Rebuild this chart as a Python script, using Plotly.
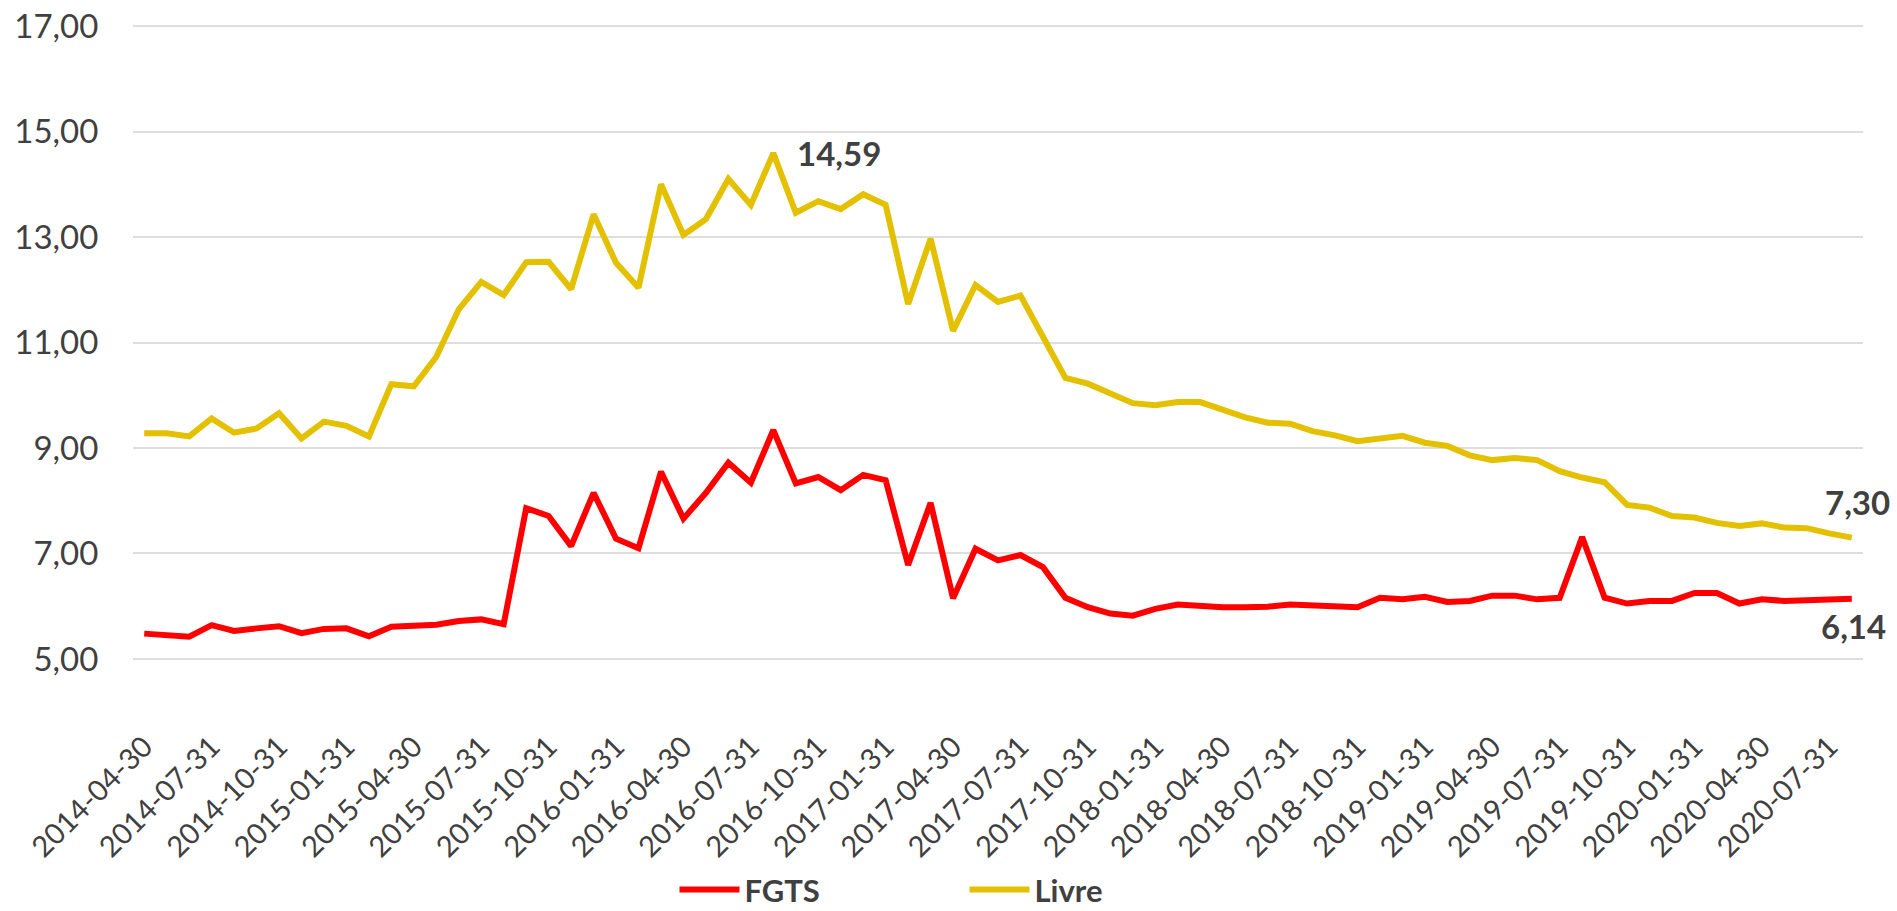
import pandas as pd
import plotly.graph_objects as go

# Month-end categories 2014-04-30 .. 2020-08-31
dates = [d.strftime("%Y-%m-%d") for d in pd.date_range("2014-04-30", periods=77, freq="ME")]

fgts = [5.48, 5.46, 5.42, 5.64, 5.53, 5.58, 5.62, 5.49, 5.57, 5.58,
        5.43, 5.61, 5.64, 5.65, 5.72, 5.75, 5.66, 7.86, 7.71, 7.14,
        8.15, 7.28, 7.10, 8.55, 7.66, 8.15, 8.72, 8.34, 9.34, 8.33,
        8.45, 8.20, 8.49, 8.39, 6.78, 7.96, 6.15, 7.09, 6.87, 6.97,
        6.74, 6.16, 5.98, 5.86, 5.82, 5.95, 6.03, 6.00, 5.98, 5.98,
        5.99, 6.03, 6.01, 5.99, 5.98, 6.16, 6.13, 6.18, 6.08, 6.10,
        6.20, 6.20, 6.13, 6.16, 7.31, 6.16, 6.05, 6.10, 6.10, 6.25,
        6.25, 6.05, 6.13, 6.10, 6.11, 6.12, 6.14]

livre = [9.28, 9.28, 9.22, 9.56, 9.29, 9.37, 9.66, 9.18, 9.50, 9.42,
         9.22, 10.21, 10.17, 10.73, 11.63, 12.15, 11.90, 12.52, 12.53, 12.01,
         13.43, 12.51, 12.04, 14.00, 13.04, 13.34, 14.10, 13.61, 14.59, 13.46,
         13.68, 13.53, 13.81, 13.61, 11.73, 12.97, 11.22, 12.09, 11.77, 11.89,
         11.11, 10.33, 10.22, 10.03, 9.85, 9.81, 9.87, 9.87, 9.73, 9.58,
         9.48, 9.46, 9.32, 9.24, 9.13, 9.18, 9.23, 9.10, 9.04, 8.86,
         8.77, 8.81, 8.77, 8.56, 8.44, 8.35, 7.92, 7.87, 7.71, 7.68,
         7.58, 7.52, 7.57, 7.49, 7.48, 7.38, 7.30]

tick_labels = dates[::3]
y_ticks = [5, 7, 9, 11, 13, 15, 17]

RED = "#FF0000"
GOLD = "#E3C000"
TXT = "#404040"
FONT = "Lato, 'Open Sans', sans-serif"
CLEAR = "rgba(0,0,0,0)"

def fmt(v):
    return f"{v:.2f}".replace(".", ",")

fig = go.Figure()
fig.add_trace(go.Scatter(x=dates, y=fgts, mode="lines", name="FGTS",
                         line=dict(color=RED, width=6)))
fig.add_trace(go.Scatter(x=dates, y=livre, mode="lines", name="Livre",
                         line=dict(color=GOLD, width=6)))

imax = livre.index(max(livre))
fig.add_annotation(x=dates[imax], y=livre[imax], text=f"<b>{fmt(livre[imax])}</b>",
                   showarrow=False, xanchor="left", yanchor="middle", xshift=22, yshift=0,
                   font=dict(size=33, color=TXT, family=FONT))
fig.add_annotation(x=dates[-1], y=livre[-1], text=f"<b>{fmt(livre[-1])}</b>",
                   showarrow=False, xanchor="right", yanchor="bottom", xshift=40, yshift=14,
                   font=dict(size=33, color=TXT, family=FONT))
fig.add_annotation(x=dates[-1], y=fgts[-1], text=f"<b>{fmt(fgts[-1])}</b>",
                   showarrow=False, xanchor="right", yanchor="top", xshift=36, yshift=-5,
                   font=dict(size=33, color=TXT, family=FONT))

fig.update_layout(
    width=1897, height=911,
    margin=dict(l=133, r=34, t=25, b=251, autoexpand=False),
    paper_bgcolor="white", plot_bgcolor="white",
    separators=",.",
    font=dict(family=FONT, color=TXT),
    showlegend=True,
    legend=dict(orientation="h", x=0.313, xanchor="left", y=-0.362, yanchor="middle",
                font=dict(size=31, color=TXT, family=FONT, weight="bold"),
                itemwidth=60, entrywidth=215,
                bgcolor="rgba(0,0,0,0)"),
)
fig.update_xaxes(type="category", range=[-0.5, len(dates) - 0.5],
                 tickmode="array", tickvals=tick_labels, ticktext=tick_labels,
                 tickangle=-45, tickfont=dict(size=29, color=TXT, family=FONT),
                 showgrid=False, showline=False, zeroline=False, automargin=False,
                 ticks="outside", ticklen=57, tickcolor=CLEAR)
fig.update_yaxes(range=[4.98, 17.02], tickmode="array", tickvals=y_ticks, tickformat=".2f",
                 tickfont=dict(size=33, color=TXT, family=FONT),
                 showgrid=True, gridcolor="#DEDEDE", gridwidth=2,
                 showline=False, zeroline=False, automargin=False,
                 ticks="outside", ticklen=27, tickcolor=CLEAR)

fig.write_html("out.html", config={"displayModeBar": False},
               post_script="document.body.style.margin='0';")
